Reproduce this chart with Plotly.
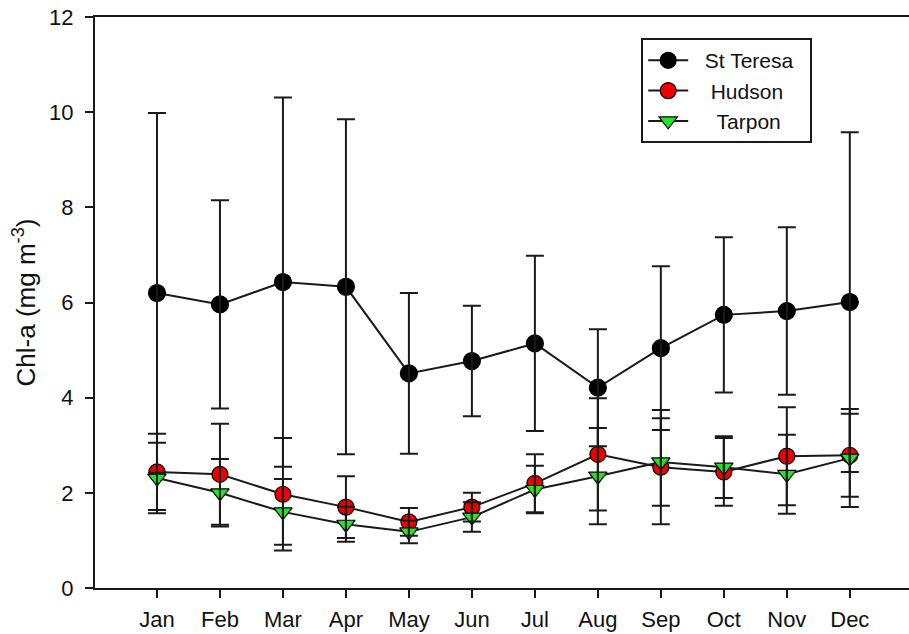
import plotly.graph_objects as go

# Monthly chlorophyll-a (mean ± SD) at three sites
months = ["Jan", "Feb", "Mar", "Apr", "May", "Jun",
          "Jul", "Aug", "Sep", "Oct", "Nov", "Dec"]
month_pos = list(range(1, 13))

st_teresa_mean = [6.20, 5.96, 6.43, 6.33, 4.51, 4.77, 5.14, 4.21, 5.04, 5.74, 5.82, 6.01]
st_teresa_sd = [3.78, 2.19, 3.88, 3.52, 1.69, 1.16, 1.84, 1.23, 1.72, 1.63, 1.76, 3.57]

hudson_mean = [2.44, 2.39, 1.97, 1.70, 1.39, 1.70, 2.20, 2.81, 2.54, 2.44, 2.77, 2.79]
hudson_sd = [0.80, 1.06, 1.18, 0.65, 0.29, 0.30, 0.61, 1.18, 1.20, 0.71, 1.03, 0.87]

tarpon_mean = [2.31, 2.00, 1.60, 1.34, 1.18, 1.49, 2.07, 2.35, 2.65, 2.54, 2.39, 2.73]
tarpon_sd = [0.74, 0.71, 0.69, 0.37, 0.24, 0.31, 0.50, 1.01, 0.92, 0.65, 0.83, 1.03]

y_ticks = [0, 2, 4, 6, 8, 10, 12]

FONT = "Liberation Sans, Arial, sans-serif"
INK = "#1a1a1a"
LINE_W = 2
NB = "\u00a0"  # non-breaking spaces keep the legend labels centred in their box

series = [
    (NB * 2 + "St Teresa" + NB * 2, st_teresa_mean, st_teresa_sd, "circle", "#000000", 17),
    (NB * 3 + "Hudson", hudson_mean, hudson_sd, "circle", "#ee0000", 16),
    (NB * 4 + "Tarpon", tarpon_mean, tarpon_sd, "triangle-down", "#22e622", 16),
]

fig = go.Figure()

# connecting lines and symbols
for name, mean, sd, symbol, color, size in series:
    fig.add_trace(go.Scatter(
        x=month_pos, y=mean, name=name, mode="lines+markers",
        line=dict(color=INK, width=LINE_W),
        marker=dict(symbol=symbol, size=size, color=color,
                    line=dict(color="#000000", width=1.2)),
    ))

# error bars, drawn on top of the symbols
for name, mean, sd, symbol, color, size in series:
    fig.add_trace(go.Scatter(
        x=month_pos, y=mean, mode="markers", showlegend=False, hoverinfo="skip",
        marker=dict(size=1, color="rgba(0,0,0,0)"),
        error_y=dict(type="data", array=sd, visible=True,
                     color=INK, thickness=LINE_W, width=9),
    ))

fig.update_layout(
    width=909, height=634,
    margin=dict(l=95, r=0, t=17, b=46),
    paper_bgcolor="white", plot_bgcolor="white",
    font=dict(family=FONT, size=22, color="#111111"),
    showlegend=True,
    legend=dict(
        x=0.671, y=0.963, xanchor="left", yanchor="top",
        bgcolor="white", bordercolor=INK, borderwidth=2,
        font=dict(family=FONT, size=21, color="#111111"),
        tracegroupgap=0, itemwidth=40,
    ),
    xaxis=dict(
        range=[0.016, 12.94], tickmode="array", tickvals=month_pos, ticktext=months,
        showline=True, linecolor=INK, linewidth=LINE_W, mirror=True,
        ticks="outside", ticklen=8, tickwidth=LINE_W, tickcolor=INK,
        showgrid=False, zeroline=False, fixedrange=True,
        tickfont=dict(family=FONT, size=22), ticklabelstandoff=3,
    ),
    yaxis=dict(
        range=[0, 12], tickmode="array", tickvals=y_ticks,
        showline=True, linecolor=INK, linewidth=LINE_W,
        ticks="outside", ticklen=8, tickwidth=LINE_W, tickcolor=INK,
        showgrid=False, zeroline=False, fixedrange=True,
        tickfont=dict(family=FONT, size=22), ticklabelstandoff=7,
        title=dict(text="Chl-a (mg m<sup>-3</sup>)", standoff=6,
                   font=dict(family=FONT, size=26)),
    ),
)

fig.write_html("out.html")
